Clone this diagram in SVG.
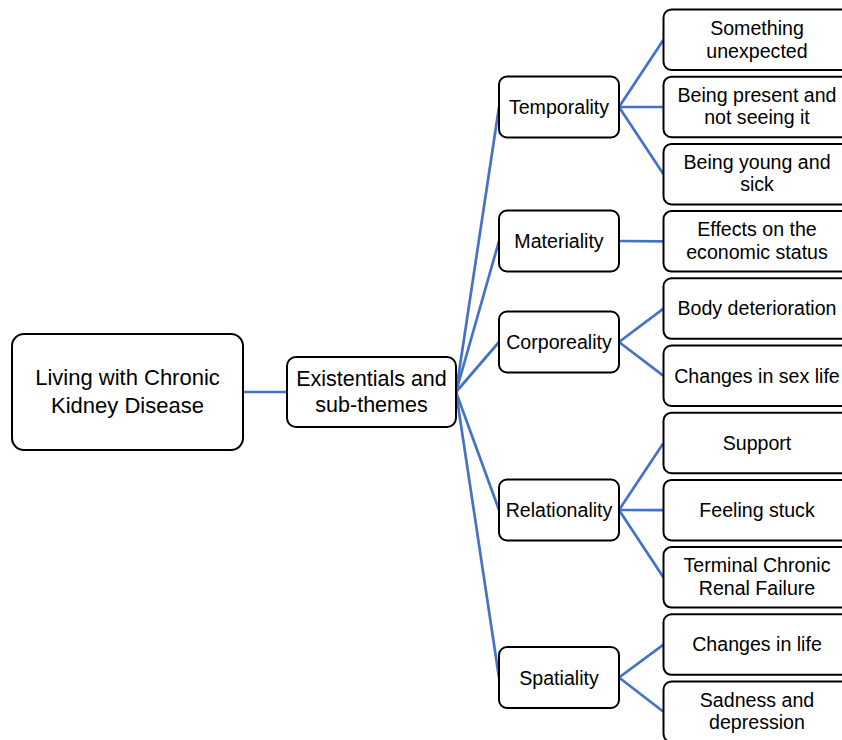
<svg xmlns="http://www.w3.org/2000/svg" width="842" height="740" viewBox="0 0 842 740">
<style>
.box{fill:#fff;stroke:#000;stroke-width:2}
.t{font-family:"Liberation Sans",Arial,sans-serif;font-size:19.6px;fill:#000;text-anchor:middle}
.big{font-size:21.5px}
.c line{stroke:#4472C4;stroke-width:2.7;stroke-linecap:butt}
</style>
<rect width="842" height="740" fill="#fff"/>
<g class="c" id="connectors">
<line x1="243" y1="392" x2="287" y2="392"/>
<line x1="456" y1="392" x2="499" y2="107"/>
<line x1="456" y1="392" x2="499" y2="241"/>
<line x1="456" y1="392" x2="499" y2="342"/>
<line x1="456" y1="392" x2="499" y2="510"/>
<line x1="456" y1="392" x2="499" y2="677.5"/>
<line x1="619" y1="107" x2="663.5" y2="39.8"/>
<line x1="619" y1="107" x2="663.5" y2="107"/>
<line x1="619" y1="107" x2="663.5" y2="174.2"/>
<line x1="619" y1="241" x2="663.5" y2="241.4"/>
<line x1="619" y1="342" x2="663.5" y2="308.6"/>
<line x1="619" y1="342" x2="663.5" y2="375.8"/>
<line x1="619" y1="510" x2="663.5" y2="443"/>
<line x1="619" y1="510" x2="663.5" y2="510.2"/>
<line x1="619" y1="510" x2="663.5" y2="577.4"/>
<line x1="619" y1="677.5" x2="663.5" y2="644.6"/>
<line x1="619" y1="677.5" x2="663.5" y2="711.8"/>
</g>
<g id="root">
<rect class="box" x="12" y="334" width="231" height="116" rx="12"/>
<text class="t big" x="127.5" y="385" style="font-size:22px">Living with Chronic</text>
<text class="t big" x="127.5" y="413" style="font-size:22px">Kidney Disease</text>
</g>
<g id="existentials">
<rect class="box" x="287" y="357" width="169" height="70" rx="9"/>
<text class="t big" x="371.5" y="386">Existentials and</text>
<text class="t big" x="371.5" y="412">sub-themes</text>
</g>
<g id="temporality">
<rect class="box" x="499" y="76.5" width="120" height="61" rx="8"/>
<text class="t" x="559" y="114">Temporality</text>
</g>
<g id="materiality">
<rect class="box" x="499" y="210.5" width="120" height="61" rx="8"/>
<text class="t" x="559" y="248">Materiality</text>
</g>
<g id="corporeality">
<rect class="box" x="499" y="311.5" width="120" height="61" rx="8"/>
<text class="t" x="559" y="349">Corporeality</text>
</g>
<g id="relationality">
<rect class="box" x="499" y="479.5" width="120" height="61" rx="8"/>
<text class="t" x="559" y="517">Relationality</text>
</g>
<g id="spatiality">
<rect class="box" x="499" y="647" width="120" height="61" rx="8"/>
<text class="t" x="559" y="684.5">Spatiality</text>
</g>
<g id="leaf-something-unexpected">
<rect class="box" x="663.5" y="9.5" width="188" height="60.5" rx="8"/>
<text class="t" x="757" y="34.5">Something</text>
<text class="t" x="757" y="57.5">unexpected</text>
</g>
<g id="leaf-being-present">
<rect class="box" x="663.5" y="76.7" width="188" height="60.5" rx="8"/>
<text class="t" x="757" y="101.7">Being present and</text>
<text class="t" x="757" y="124.2">not seeing it</text>
</g>
<g id="leaf-being-young">
<rect class="box" x="663.5" y="143.9" width="188" height="60.5" rx="8"/>
<text class="t" x="757" y="168.9">Being young and</text>
<text class="t" x="757" y="191.4">sick</text>
</g>
<g id="leaf-effects">
<rect class="box" x="663.5" y="211.1" width="188" height="60.5" rx="8"/>
<text class="t" x="757" y="236.1">Effects on the</text>
<text class="t" x="757" y="258.6">economic status</text>
</g>
<g id="leaf-body">
<rect class="box" x="663.5" y="278.3" width="188" height="60.5" rx="8"/>
<text class="t" x="757" y="315.3">Body deterioration</text>
</g>
<g id="leaf-sex-life">
<rect class="box" x="663.5" y="345.5" width="188" height="60.5" rx="8"/>
<text class="t" x="757" y="382.5">Changes in sex life</text>
</g>
<g id="leaf-support">
<rect class="box" x="663.5" y="412.7" width="188" height="60.5" rx="8"/>
<text class="t" x="757" y="449.7">Support</text>
</g>
<g id="leaf-feeling-stuck">
<rect class="box" x="663.5" y="479.9" width="188" height="60.5" rx="8"/>
<text class="t" x="757" y="516.9">Feeling stuck</text>
</g>
<g id="leaf-terminal">
<rect class="box" x="663.5" y="547.1" width="188" height="60.5" rx="8"/>
<text class="t" x="757" y="572.1">Terminal Chronic</text>
<text class="t" x="757" y="594.6">Renal Failure</text>
</g>
<g id="leaf-changes-life">
<rect class="box" x="663.5" y="614.3" width="188" height="60.5" rx="8"/>
<text class="t" x="757" y="651.3">Changes in life</text>
</g>
<g id="leaf-sadness">
<rect class="box" x="663.5" y="681.5" width="188" height="60.5" rx="8"/>
<text class="t" x="757" y="706.5">Sadness and</text>
<text class="t" x="757" y="729">depression</text>
</g>
</svg>
